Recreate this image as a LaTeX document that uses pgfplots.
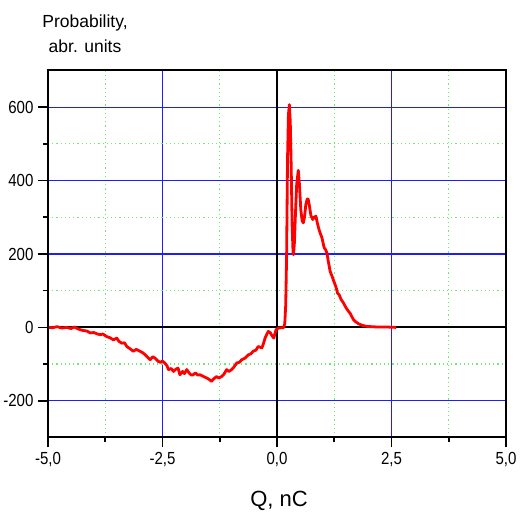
\documentclass[border=0pt]{standalone}
\usepackage{pgfplots}
\pgfplotsset{compat=1.18}
\usepackage{fontspec}
\setmainfont{Liberation Sans}
\newfontfamily\tickfont[FakeStretch=0.86]{Liberation Sans}
\definecolor{gridgreen}{RGB}{110,235,110}
\definecolor{gridblue}{RGB}{30,30,245}
\begin{document}
\begin{tikzpicture}
\path[use as bounding box] (-48pt,-75.5pt) rectangle (472pt,437.5pt);
\begin{axis}[
  at={(0,0)}, anchor=south west,
  scale only axis, width=458pt, height=367pt,
  xmin=-5, xmax=5, ymin=-300, ymax=700,
  axis line style={black, line width=2pt},
  xtick={-5,-2.5,0,2.5,5},
  xticklabels={{-5,0},{-2,5},{0,0},{2,5},{5,0}},
  minor xtick={-3.75,-1.25,1.25,3.75},
  ytick={-200,0,200,400,600},
  yticklabels={-200,0,200,400,600},
  minor ytick={-100,100,300,500},
  tick align=outside,
  xtick pos=bottom, ytick pos=left,
  major tick length=10pt, minor tick length=5pt,
  every tick/.style={black, line width=1.6pt},
  grid=both,
  major grid style={gridblue, line width=1.2pt},
  minor grid style={gridgreen, line width=1.2pt, dash pattern=on 1.2pt off 3pt},
  xticklabel style={font=\tickfont\fontsize{17.5}{18}\selectfont, yshift=-1pt},
  yticklabel style={font=\tickfont\fontsize{17.5}{18}\selectfont, xshift=-1pt},
  clip=false,
]
\draw[black, line width=2pt] (axis cs:0,-300) -- (axis cs:0,700);
\draw[black, line width=2pt] (axis cs:-5,0) -- (axis cs:5,0);
\addplot[red, line width=2.8pt, line join=round, no markers] coordinates {
(-4.98,0) (-4.90,-1) (-4.80,2) (-4.70,-2) (-4.60,0) (-4.50,-3) (-4.42,1) (-4.35,-4)
(-4.25,-8) (-4.15,-10) (-4.08,-15) (-4.00,-14) (-3.92,-18) (-3.86,-20) (-3.80,-18)
(-3.72,-25) (-3.65,-28) (-3.57,-34) (-3.50,-29) (-3.45,-38) (-3.39,-43) (-3.33,-42)
(-3.28,-52) (-3.21,-58) (-3.14,-65) (-3.07,-60) (-2.99,-65) (-2.92,-70) (-2.85,-78)
(-2.77,-88) (-2.71,-80) (-2.66,-84) (-2.60,-92) (-2.55,-95) (-2.50,-92) (-2.45,-97)
(-2.40,-105) (-2.37,-115) (-2.31,-112) (-2.26,-120) (-2.21,-114) (-2.16,-111)
(-2.12,-129) (-2.06,-120) (-2.02,-126) (-1.97,-115) (-1.92,-124) (-1.87,-130)
(-1.83,-129) (-1.78,-124) (-1.73,-130) (-1.68,-129) (-1.62,-133) (-1.57,-136)
(-1.53,-138) (-1.48,-142) (-1.43,-147) (-1.38,-140) (-1.32,-134) (-1.27,-138)
(-1.21,-134) (-1.16,-128) (-1.10,-115) (-1.05,-120) (-0.99,-115) (-0.94,-108)
(-0.88,-97) (-0.82,-95) (-0.77,-88) (-0.70,-84) (-0.63,-75) (-0.57,-72) (-0.52,-65)
(-0.46,-62) (-0.41,-52) (-0.37,-54) (-0.33,-56) (-0.29,-42) (-0.26,-29) (-0.22,-18)
(-0.19,-11) (-0.15,-14) (-0.12,-20) (-0.09,-26) (-0.07,-29) (-0.04,-15) (-0.02,-6)
(0.03,-2) (0.08,-1) (0.14,-1) (0.17,10) (0.19,60) (0.21,194) (0.23,460) (0.25,580)
(0.27,607) (0.29,560) (0.31,440) (0.33,280) (0.35,205) (0.36,198) (0.38,230)
(0.40,300) (0.43,390) (0.465,428) (0.49,390) (0.52,320) (0.55,290) (0.575,285)
(0.60,300) (0.63,335) (0.66,350) (0.68,350) (0.71,330) (0.74,305) (0.78,294)
(0.81,300) (0.85,303) (0.88,285) (0.91,270) (0.94,258) (0.98,245) (1.03,217)
(1.06,212) (1.09,203) (1.12,180) (1.16,153) (1.20,140) (1.24,126) (1.27,116)
(1.30,105) (1.32,94) (1.36,88) (1.40,76) (1.45,67) (1.50,55) (1.56,44) (1.60,38)
(1.64,28) (1.67,21) (1.72,15) (1.78,10) (1.83,7) (1.88,5) (1.95,3) (2.05,2)
(2.2,1) (2.4,1) (2.6,0)
};
\end{axis}
\node[align=center, font=\fontsize{17.5}{25}\selectfont, inner sep=0pt] at (37pt,404pt) {Probability,\\ abr. units};
\node[font=\fontsize{22}{24}\selectfont, inner sep=0pt] at (231pt,-63.5pt) {Q, nC};
\end{tikzpicture}
\end{document}
